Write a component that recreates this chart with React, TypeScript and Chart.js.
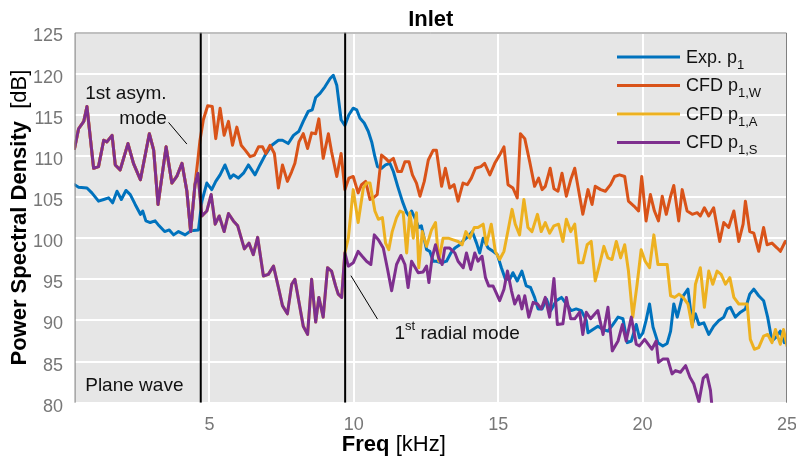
import React, { useEffect, useRef } from "react";
import { Chart, registerables } from "chart.js";

Chart.register(...registerables);

const FONT = '"Liberation Sans", Arial, Helvetica, sans-serif';

// ---- axis setup ----
const xTicks = [5, 10, 15, 20, 25];
const xMin = 0.332;
const xMax = 25;
const yMin = 80;
const yMax = 125;
const yStep = 5;

// ---- vertical marker frequencies [kHz] ----
const markerFreqs = [4.7, 9.7];

// ---- series names ----
const legendMain = ["Exp. p", "CFD p", "CFD p", "CFD p"];
const legendSub = ["1", "1,W", "1,A", "1,S"];
const seriesColors = ["#0072BD", "#D95319", "#EDB120", "#7E2F8E"];

// ---- data: [freq kHz, PSD dB] ----
const expData: [number, number][] = [
  [0.33, 106.5], [0.47, 106.2], [0.76, 106.1], [0.93, 105.5], [1.16, 104.5], [1.34, 104.7], [1.51, 104.9], [1.65, 104.3],
  [1.8, 105.7], [1.95, 104.7], [2.11, 105.8], [2.26, 105.3], [2.43, 104.1], [2.61, 102.9], [2.69, 103.3], [2.8, 102.1],
  [2.95, 101.9], [3.12, 102.1], [3.26, 101.5], [3.45, 100.8], [3.61, 101.0], [3.76, 100.4], [3.93, 100.8], [4.16, 100.4],
  [4.36, 100.9], [4.62, 101.0], [4.74, 104.5], [4.91, 106.7], [5.08, 105.9], [5.22, 106.9], [5.37, 107.7], [5.54, 108.9],
  [5.72, 107.3], [5.83, 107.7], [6.0, 107.3], [6.18, 107.9], [6.35, 108.9], [6.58, 107.7], [6.75, 108.9], [6.93, 110.1],
  [7.16, 111.3], [7.39, 111.9], [7.53, 111.9], [7.73, 111.5], [7.91, 112.5], [8.1, 113.0], [8.25, 114.2], [8.42, 115.4],
  [8.56, 115.6], [8.68, 117.1], [8.83, 117.6], [9.0, 118.4], [9.18, 119.4], [9.29, 119.8], [9.41, 118.6], [9.56, 114.4],
  [9.69, 113.7], [9.83, 115.0], [9.98, 115.8], [10.1, 115.6], [10.21, 114.6], [10.36, 114.0], [10.5, 113.0], [10.62, 111.7],
  [10.73, 109.9], [10.82, 108.7], [10.96, 108.5], [11.1, 108.9], [11.25, 109.1], [11.37, 108.1], [11.52, 106.3], [11.68, 104.5],
  [11.83, 103.1], [11.91, 102.7], [12.0, 103.3], [12.11, 102.5], [12.25, 101.3], [12.34, 101.5], [12.52, 98.6], [12.63, 98.4],
  [12.75, 97.2], [12.86, 97.2], [13.04, 97.0], [13.21, 97.2], [13.36, 98.2], [13.5, 98.8], [13.67, 99.2], [13.82, 99.8],
  [13.96, 100.2], [14.1, 100.8], [14.25, 99.4], [14.36, 98.2], [14.48, 100.0], [14.65, 98.8], [14.82, 98.4], [14.97, 98.0],
  [15.11, 96.4], [15.25, 95.0], [15.4, 95.0], [15.51, 95.8], [15.66, 94.8], [15.82, 96.0], [15.97, 94.2], [16.12, 94.0],
  [16.26, 92.8], [16.38, 91.4], [16.52, 91.4], [16.67, 92.6], [16.82, 91.2], [17.01, 92.4], [17.19, 92.8], [17.36, 92.0],
  [17.53, 91.2], [17.7, 91.4], [17.88, 91.2], [18.05, 90.0], [18.11, 88.5], [18.28, 88.9], [18.45, 89.3], [18.63, 88.9],
  [18.8, 88.7], [18.97, 89.5], [19.15, 90.4], [19.32, 90.2], [19.47, 87.3], [19.61, 87.5], [19.78, 89.5], [19.89, 87.9],
  [20.01, 88.5], [20.12, 90.0], [20.24, 92.0], [20.36, 89.2], [20.53, 87.3], [20.7, 86.9], [20.85, 87.2], [20.97, 88.7],
  [21.08, 92.0], [21.2, 90.4], [21.37, 92.8], [21.57, 93.8], [21.72, 89.5], [21.83, 90.8], [21.95, 89.5], [22.12, 89.7],
  [22.29, 88.3], [22.46, 89.3], [22.64, 90.0], [22.81, 90.4], [22.93, 91.4], [23.04, 91.6], [23.21, 90.4], [23.39, 91.0],
  [23.56, 91.4], [23.71, 93.2], [23.85, 93.8], [24.02, 93.0], [24.19, 92.4], [24.33, 90.4], [24.48, 87.5], [24.63, 88.0],
  [24.77, 88.7], [24.91, 87.3], [25.0, 87.5],
];

// CFD part shared by all three CFD signals (below 4.5 kHz)
const cfdCommon: [number, number][] = [
  [0.33, 110.9], [0.47, 113.3], [0.65, 114.2], [0.76, 116.0], [0.99, 108.5], [1.16, 108.7], [1.34, 111.9], [1.45, 111.7],
  [1.63, 112.5], [1.74, 108.9], [1.91, 108.3], [2.18, 111.5], [2.37, 109.1], [2.61, 107.1], [2.92, 112.7], [3.07, 110.7],
  [3.22, 104.1], [3.5, 111.1], [3.7, 106.7], [3.87, 107.5], [4.05, 109.1], [4.22, 105.7], [4.35, 100.8], [4.5, 106.5],
];

// CFD part shared by p1,S and p1,A (4.6 - 9.7 kHz)
const cfdSA: [number, number][] = [
  [4.6, 107.9], [4.74, 102.7], [4.91, 103.3], [5.06, 105.3], [5.2, 101.7], [5.34, 102.7], [5.51, 100.8], [5.66, 103.0],
  [5.83, 102.1], [5.98, 101.5], [6.21, 98.7], [6.37, 99.4], [6.52, 98.0], [6.67, 100.1], [6.87, 95.4], [7.04, 95.6],
  [7.22, 96.6], [7.39, 94.0], [7.53, 91.8], [7.7, 90.8], [7.85, 94.4], [7.96, 95.0], [8.25, 89.3], [8.4, 88.3],
  [8.54, 95.0], [8.68, 89.8], [8.79, 92.8], [8.94, 90.4], [9.09, 96.4], [9.23, 96.0], [9.37, 94.2], [9.46, 93.2],
  [9.58, 92.8], [9.69, 98.2],
];

const cfdWTail: [number, number][] = [
  [4.6, 109.5], [4.67, 111.8], [4.79, 114.4], [4.94, 116.1], [5.1, 116.0], [5.22, 112.1], [5.37, 115.8], [5.51, 112.5],
  [5.66, 114.2], [5.8, 111.3], [5.95, 113.5], [6.1, 111.3], [6.24, 110.7], [6.41, 109.9], [6.56, 110.1], [6.7, 111.1],
  [6.84, 111.1], [6.95, 110.3], [7.1, 111.3], [7.25, 110.3], [7.39, 106.1], [7.53, 108.9], [7.7, 106.9], [7.85, 108.1],
  [7.96, 109.1], [8.1, 111.7], [8.25, 112.7], [8.4, 110.9], [8.54, 112.8], [8.68, 112.7], [8.79, 114.5], [8.94, 109.7],
  [9.12, 112.7], [9.23, 110.5], [9.41, 107.5], [9.56, 110.3], [9.69, 105.9], [9.83, 107.3], [9.98, 107.5], [10.15, 105.5],
  [10.27, 106.5], [10.41, 106.9], [10.56, 104.7], [10.67, 104.9], [10.81, 105.3], [10.96, 110.1], [11.1, 109.7], [11.21, 109.3],
  [11.37, 109.7], [11.52, 108.1], [11.65, 108.1], [11.77, 109.3], [11.91, 109.3], [12.03, 107.7], [12.17, 106.7], [12.29, 105.1],
  [12.44, 106.9], [12.58, 109.5], [12.75, 110.7], [12.86, 110.7], [13.04, 106.3], [13.17, 108.5], [13.32, 106.1], [13.47, 106.5],
  [13.61, 104.5], [13.78, 106.7], [13.93, 106.5], [14.07, 107.3], [14.21, 108.5], [14.4, 108.7], [14.53, 109.1], [14.71, 107.7],
  [14.88, 109.1], [15.05, 110.1], [15.2, 111.1], [15.34, 106.5], [15.51, 106.1], [15.66, 104.9], [15.77, 112.7], [15.92, 112.1],
  [16.09, 109.3], [16.26, 106.3], [16.4, 107.3], [16.52, 105.9], [16.63, 106.3], [16.8, 108.5], [16.93, 106.0], [17.07, 105.7],
  [17.21, 107.9], [17.36, 105.1], [17.51, 107.1], [17.65, 108.5], [17.79, 105.7], [17.93, 102.9], [18.11, 105.9], [18.25, 104.1],
  [18.36, 106.3], [18.55, 105.9], [18.71, 105.7], [18.89, 106.5], [19.03, 107.5], [19.2, 107.7], [19.38, 107.5], [19.51, 104.5],
  [19.7, 103.9], [19.86, 103.3], [19.97, 107.5], [20.12, 102.1], [20.27, 105.3], [20.41, 103.3], [20.55, 102.1], [20.68, 105.1],
  [20.82, 102.9], [20.97, 105.1], [21.08, 106.4], [21.25, 102.1], [21.37, 105.9], [21.54, 103.3], [21.72, 102.9], [21.89, 103.1],
  [22.0, 102.7], [22.14, 103.7], [22.29, 102.7], [22.46, 103.7], [22.67, 99.6], [22.81, 101.9], [22.98, 101.3], [23.16, 103.3],
  [23.33, 99.6], [23.48, 101.7], [23.56, 104.5], [23.71, 100.8], [23.85, 100.6], [24.02, 98.4], [24.19, 101.3], [24.31, 99.2],
  [24.48, 99.4], [24.66, 98.8], [24.77, 98.4], [24.94, 99.6], [25.0, 99.4],
];

const cfdATail: [number, number][] = [
  [9.81, 100.0], [9.98, 105.9], [10.15, 101.9], [10.33, 106.1], [10.44, 106.7], [10.56, 106.7], [10.73, 103.3], [10.85, 102.3],
  [10.99, 102.5], [11.1, 99.4], [11.21, 98.6], [11.33, 100.8], [11.48, 102.5], [11.6, 103.3], [11.71, 103.1], [11.83, 98.2],
  [11.94, 103.1], [12.06, 100.0], [12.17, 103.1], [12.25, 96.4], [12.37, 100.8], [12.52, 99.0], [12.69, 101.0], [12.83, 101.9],
  [12.94, 97.2], [13.09, 100.0], [13.27, 100.0], [13.44, 99.8], [13.61, 99.6], [13.75, 99.2], [13.88, 100.8], [14.02, 100.0],
  [14.17, 101.3], [14.3, 101.3], [14.48, 101.7], [14.59, 99.2], [14.76, 101.7], [14.9, 98.4], [15.05, 97.4], [15.2, 98.4],
  [15.36, 101.3], [15.48, 103.5], [15.59, 101.7], [15.74, 100.4], [15.89, 104.7], [16.03, 101.3], [16.17, 100.8], [16.36, 102.9],
  [16.49, 100.8], [16.63, 101.9], [16.78, 100.6], [16.93, 101.5], [17.09, 101.7], [17.24, 99.6], [17.36, 102.3], [17.51, 100.8],
  [17.65, 101.7], [17.79, 97.0], [17.93, 97.0], [18.08, 99.2], [18.22, 99.6], [18.36, 94.8], [18.51, 96.8], [18.66, 99.0],
  [18.8, 97.6], [18.94, 97.4], [19.09, 99.6], [19.24, 97.6], [19.38, 99.2], [19.51, 96.0], [19.66, 90.4], [19.81, 94.4],
  [19.95, 98.6], [20.09, 97.2], [20.24, 96.4], [20.39, 100.4], [20.53, 96.8], [20.7, 96.8], [20.85, 96.8], [20.97, 93.0],
  [21.11, 92.8], [21.26, 93.2], [21.4, 92.8], [21.57, 92.0], [21.72, 89.2], [21.83, 94.4], [22.0, 96.4], [22.14, 91.6],
  [22.29, 96.0], [22.43, 94.4], [22.58, 96.0], [22.72, 95.6], [22.87, 94.4], [23.02, 95.2], [23.16, 92.8], [23.33, 92.0],
  [23.5, 92.0], [23.62, 92.0], [23.73, 87.7], [23.87, 86.5], [24.02, 86.7], [24.19, 88.1], [24.33, 88.3], [24.48, 87.3],
  [24.6, 88.9], [24.77, 87.1], [24.88, 88.9], [25.0, 86.9],
];

const cfdSTail: [number, number][] = [
  [9.81, 96.6], [9.98, 97.0], [10.15, 98.4], [10.29, 97.8], [10.44, 97.2], [10.59, 96.8], [10.71, 100.4], [10.85, 99.8],
  [11.02, 98.8], [11.17, 96.2], [11.31, 93.6], [11.48, 96.8], [11.63, 97.9], [11.77, 96.8], [11.88, 94.0], [12.0, 97.2],
  [12.23, 95.8], [12.4, 95.9], [12.52, 96.6], [12.6, 94.6], [12.71, 97.6], [12.83, 99.2], [12.94, 97.6], [13.06, 96.8],
  [13.15, 98.8], [13.32, 98.8], [13.5, 98.2], [13.61, 97.2], [13.79, 96.4], [13.9, 98.2], [14.05, 96.2], [14.19, 98.2],
  [14.3, 97.2], [14.44, 97.8], [14.56, 95.2], [14.67, 94.2], [14.82, 94.2], [14.9, 93.6], [15.05, 92.4], [15.2, 93.8],
  [15.32, 96.0], [15.46, 93.6], [15.57, 92.0], [15.71, 93.0], [15.82, 91.4], [15.92, 93.0], [16.06, 90.4], [16.21, 92.2],
  [16.36, 92.0], [16.49, 91.4], [16.63, 92.8], [16.78, 90.4], [16.93, 95.1], [17.05, 89.5], [17.24, 89.6], [17.36, 92.8],
  [17.51, 90.2], [17.65, 90.2], [17.82, 91.0], [17.93, 88.3], [18.05, 91.0], [18.2, 90.2], [18.45, 91.2], [18.63, 88.3],
  [18.8, 91.6], [18.95, 86.3], [19.15, 87.5], [19.3, 89.5], [19.43, 87.5], [19.61, 90.4], [19.78, 87.1], [19.89, 86.9],
  [20.07, 87.7], [20.32, 86.5], [20.47, 87.5], [20.55, 84.9], [20.7, 85.3], [20.87, 85.3], [21.02, 83.5], [21.14, 83.9],
  [21.31, 83.7], [21.49, 84.5], [21.64, 83.1], [21.77, 82.3], [21.95, 80.1], [22.1, 83.0], [22.23, 83.4], [22.35, 81.5],
  [22.47, 77.0],
];

// ---- annotations (data coordinates) ----
const annoAsymLine1 = { x: 0.7, y: 116.93, text: "1st asym." };
const annoAsymLine2 = { x: 1.88, y: 113.9, text: "mode" };
const annoAsymLeader = [[3.586, 114.07], [4.22, 111.44]];
const annoPlane = { x: 0.7, y: 81.43, text: "Plane wave" };
const annoRadial = { x: 11.41, y: 87.76, num: "1", sup: "st", rest: " radial mode" };
const annoRadialLeader = [[9.9, 95.44], [10.82, 90.16]];

const titleText = "Inlet";
const yTitleBold = "Power Spectral Density";
const yTitleNormal = "  [dB]";
const xTitleBold = "Freq";
const xTitleNormal = " [kHz]";

const toXY = (arr: [number, number][]) => arr.map(([x, y]) => ({ x, y }));

type Run = { text: string; font: string; dy?: number };
function drawRuns(ctx: CanvasRenderingContext2D, runs: Run[], x: number, y: number, center: boolean) {
  let total = 0;
  for (const r of runs) {
    ctx.font = r.font;
    total += ctx.measureText(r.text).width;
  }
  let cx = center ? x - total / 2 : x;
  ctx.textAlign = "left";
  for (const r of runs) {
    ctx.font = r.font;
    ctx.fillText(r.text, cx, y + (r.dy || 0));
    cx += ctx.measureText(r.text).width;
  }
}

const decorPlugin = {
  id: "decor",
  beforeDraw(chart: any) {
    const { ctx, chartArea } = chart;
    ctx.save();
    ctx.fillStyle = "#fff";
    ctx.fillRect(0, 0, chart.width, chart.height);
    ctx.fillStyle = "#e6e6e6";
    ctx.fillRect(chartArea.left, chartArea.top, chartArea.right - chartArea.left, chartArea.bottom - chartArea.top);
    ctx.restore();
  },
  afterDraw(chart: any) {
    const { ctx, chartArea } = chart;
    const xs = chart.scales.x;
    const ys = chart.scales.y;
    const px = (v: number) => xs.getPixelForValue(v);
    const py = (v: number) => ys.getPixelForValue(v);
    ctx.save();
    // border
    ctx.strokeStyle = "#808080";
    ctx.lineWidth = 1;
    ctx.beginPath();
    ctx.moveTo(chartArea.left + 0.5, chartArea.bottom);
    ctx.lineTo(chartArea.left + 0.5, chartArea.top + 0.5);
    ctx.lineTo(chartArea.right - 0.5, chartArea.top + 0.5);
    ctx.lineTo(chartArea.right - 0.5, chartArea.bottom);
    ctx.stroke();

    // annotations
    ctx.fillStyle = "#111";
    ctx.textBaseline = "alphabetic";
    const aFont = `19px ${FONT}`;
    drawRuns(ctx, [{ text: annoAsymLine1.text, font: aFont }], px(annoAsymLine1.x), py(annoAsymLine1.y), false);
    drawRuns(ctx, [{ text: annoAsymLine2.text, font: aFont }], px(annoAsymLine2.x), py(annoAsymLine2.y), false);
    drawRuns(ctx, [{ text: annoPlane.text, font: aFont }], px(annoPlane.x), py(annoPlane.y), false);
    drawRuns(
      ctx,
      [
        { text: annoRadial.num, font: aFont },
        { text: annoRadial.sup, font: `13px ${FONT}`, dy: -9 },
        { text: annoRadial.rest, font: aFont },
      ],
      px(annoRadial.x),
      py(annoRadial.y),
      false
    );
    ctx.strokeStyle = "#000";
    ctx.lineWidth = 1;
    for (const leader of [annoAsymLeader, annoRadialLeader]) {
      ctx.beginPath();
      ctx.moveTo(px(leader[0][0]), py(leader[0][1]));
      ctx.lineTo(px(leader[1][0]), py(leader[1][1]));
      ctx.stroke();
    }

    // legend
    const lx0 = chartArea.right - 170;
    const lx1 = chartArea.right - 107;
    const tx = chartArea.right - 101;
    for (let i = 0; i < legendMain.length; i++) {
      const ly = chartArea.top + 24.4 + i * 28.5;
      ctx.strokeStyle = seriesColors[i];
      ctx.lineWidth = 3;
      ctx.beginPath();
      ctx.moveTo(lx0, ly);
      ctx.lineTo(lx1, ly);
      ctx.stroke();
      ctx.fillStyle = "#111";
      drawRuns(
        ctx,
        [
          { text: legendMain[i], font: `18px ${FONT}` },
          { text: legendSub[i], font: `13px ${FONT}`, dy: 6 },
        ],
        tx,
        ly + 6,
        false
      );
    }

    // titles
    ctx.fillStyle = "#000";
    const cxm = (chartArea.left + chartArea.right) / 2;
    drawRuns(ctx, [{ text: titleText, font: `bold 22px ${FONT}` }], cxm, 26, true);
    drawRuns(
      ctx,
      [
        { text: xTitleBold, font: `bold 22px ${FONT}` },
        { text: xTitleNormal, font: `22px ${FONT}` },
      ],
      cxm - 37,
      451,
      true
    );
    ctx.save();
    ctx.translate(26, (chartArea.top + chartArea.bottom) / 2);
    ctx.rotate(-Math.PI / 2);
    drawRuns(
      ctx,
      [
        { text: yTitleBold, font: `bold 22px ${FONT}` },
        { text: yTitleNormal, font: `22px ${FONT}` },
      ],
      0,
      0,
      true
    );
    ctx.restore();
    ctx.restore();
  },
};

export default function App() {
  const canvasRef = useRef<HTMLCanvasElement | null>(null);

  useEffect(() => {
    if (!canvasRef.current) return;
    const lineCommon = {
      pointRadius: 0,
      borderWidth: 3,
      tension: 0,
      fill: false,
      borderJoinStyle: "round" as const,
      borderCapStyle: "round" as const,
      clip: 0,
    };
    const markerSets = markerFreqs.map((f) => ({
      label: `marker ${f}`,
      data: [
        { x: f, y: yMin },
        { x: f, y: yMax },
      ],
      borderColor: "#000",
      borderWidth: 2,
      pointRadius: 0,
      order: 0,
    }));
    const chart = new Chart(canvasRef.current, {
      type: "line",
      data: {
        datasets: [
          ...markerSets,
          {
            ...lineCommon,
            label: "CFD p1,S",
            data: toXY([...cfdCommon, ...cfdSA, ...cfdSTail]),
            borderColor: seriesColors[3],
            order: 1,
          },
          {
            ...lineCommon,
            label: "CFD p1,A",
            data: toXY([...cfdCommon, ...cfdSA, ...cfdATail]),
            borderColor: seriesColors[2],
            order: 2,
          },
          {
            ...lineCommon,
            label: "CFD p1,W",
            data: toXY([...cfdCommon, ...cfdWTail]),
            borderColor: seriesColors[1],
            order: 3,
          },
          {
            ...lineCommon,
            label: "Exp. p1",
            data: toXY(expData),
            borderColor: seriesColors[0],
            order: 4,
          },
        ],
      },
      options: {
        animation: false,
        responsive: false,
        devicePixelRatio: 1,
        parsing: false as any,
        layout: { padding: { top: 32.5, right: 9, left: 0, bottom: 0 } },
        plugins: {
          legend: { display: false },
          tooltip: { enabled: false },
          title: { display: false },
        },
        scales: {
          x: {
            type: "linear",
            min: xMin,
            max: xMax,
            afterBuildTicks: (axis: any) => {
              axis.ticks = xTicks.map((v) => ({ value: v }));
            },
            afterFit: (s: any) => {
              s.height = 58.3;
              s.paddingLeft = 0;
              s.paddingRight = 0;
            },
            grid: { color: "#ffffff", lineWidth: 2, drawTicks: false },
            border: { display: false },
            ticks: {
              font: { size: 18, family: FONT },
              color: "#777777",
              padding: 12,
              maxRotation: 0,
              autoSkip: false,
            },
          },
          y: {
            type: "linear",
            min: yMin,
            max: yMax,
            afterFit: (s: any) => {
              s.width = 74.6;
              s.paddingTop = 0;
              s.paddingBottom = 0;
            },
            grid: { color: "#ffffff", lineWidth: 2, drawTicks: false },
            border: { display: false },
            ticks: {
              stepSize: yStep,
              font: { size: 18, family: FONT },
              color: "#777777",
              padding: 11.5,
              labelOffset: 4,
            },
          },
        },
      },
      plugins: [decorPlugin],
    });
    return () => chart.destroy();
  }, []);

  return (
    <div style={{ position: "fixed", left: 0, top: 0, width: 796, height: 461, background: "#fff" }}>
      <canvas ref={canvasRef} width={796} height={461} style={{ width: 796, height: 461, display: "block" }} />
    </div>
  );
}
